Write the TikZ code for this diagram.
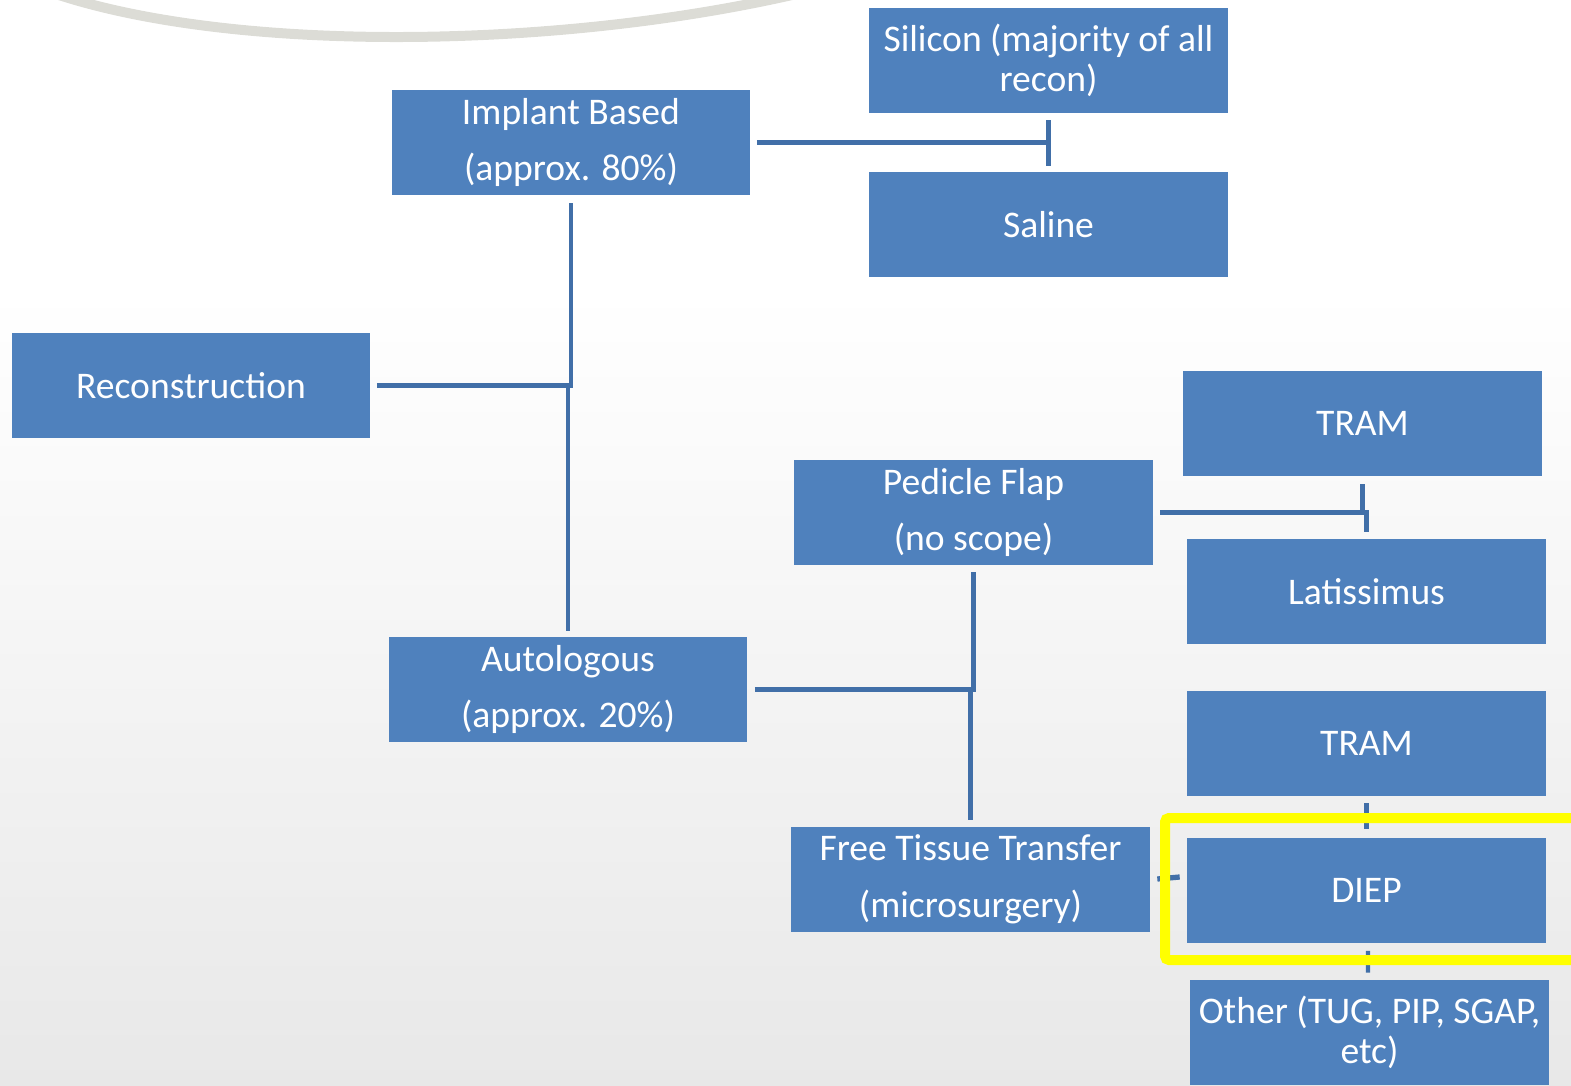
\documentclass[tikz,border=0pt]{standalone}
\usepackage{fontspec}
\setmainfont{Carlito}
\usetikzlibrary{calc}
\definecolor{boxblue}{HTML}{4F81BD}
\definecolor{linkblue}{HTML}{416FA8}
\definecolor{hilite}{HTML}{FFFF00}
\definecolor{swoosh}{HTML}{DCDCD6}
\tikzset{
  box/.style  ={rectangle, fill=boxblue, text=white, align=center, inner sep=0pt,
                minimum width=7.18cm, minimum height=2.1cm,
                font=\fontsize{21.4}{22.9}\selectfont},
  tallbox/.style={box, font=\fontsize{21.4}{32.4}\selectfont},
  link/.style ={draw=linkblue, line width=2.4pt},
  hiframe/.style={draw=hilite, line width=0.2cm, rounded corners=0.08cm},
}

\begin{document}
\begin{tikzpicture}[x=0.02cm, y=-0.02cm]
  \useasboundingbox (0,0) rectangle (1571,1085);
  \clip (0,0) rectangle (1571,1085);

  % --- background ---------------------------------------------------
  \fill[top color=white, bottom color=black!9] (0,290) rectangle (1571,1085);
  \draw[swoosh, line width=0.2cm, line cap=round]
        (50,-8) .. controls (230,54) and (560,50) .. (805,-8);

  % --- boxes ----------------------------------------------------------
  \node[box]     (sil)    at (1048.5,60.5)  {Silicon (majority of all\\recon)};
  \node[tallbox] (impl)   at (571,142.5)    {Implant Based\\(approx. 80\%)};
  \node[box]     (sal)    at (1048.5,224.5) {Saline};
  \node[box]     (recon)  at (191,385.5)    {Reconstruction};
  \node[box]     (tram1)  at (1362.5,423.5) {TRAM};
  \node[tallbox] (ped)    at (973.5,512.5)  {Pedicle Flap\\(no scope)};
  \node[box]     (lat)    at (1366.5,591.5) {Latissimus};
  \node[tallbox] (auto)   at (568,689.5)    {Autologous\\(approx. 20\%)};
  \node[box]     (tram2)  at (1366.5,743.5) {TRAM};
  \node[tallbox] (ftt)    at (970.5,879)    {Free Tissue Transfer\\(microsurgery)};
  \node[box]     (diep)   at (1366.5,890)   {DIEP};
  \node[box]     (other)  at (1369.5,1032.5){Other (TUG, PIP, SGAP,\\etc)};

  % --- connectors -----------------------------------------------------
  \coordinate (ji) at (sil.south |- impl.east);
  \draw[link] ($(impl.east)+(6,0)$) -- (ji);
  \draw[link] ($(sil.south)+(0,7)$) -- ($(sal.north)+(0,-6)$);

  \coordinate (jr) at (impl.south |- recon.east);
  \draw[link] ($(recon.east)+(6,0)$) -- (jr) -- ($(impl.south)+(0,8)$);
  \draw[link] (jr -| auto.north) -- ($(auto.north)+(0,-6)$);

  \draw[link] ($(ped.east)+(7,0)$) -- (ped.east -| lat.north) -- ($(lat.north)+(0,-7)$);
  \draw[link] ($(tram1.south)+(0,8)$) -- (tram1.south |- ped.east);

  \draw[link] ($(auto.east)+(7,0)$) -- (auto.east -| ped.south) -- ($(ped.south)+(0,7)$);
  \draw[link] (auto.east -| ftt.north) -- ($(ftt.north)+(0,-6)$);

  \coordinate (fe) at ($(diep.west)+(-7,-13)$);
  \draw[link, line width=3pt] ($(ftt.east)+(7,0)$) -- (fe);
  \draw[link] ($(tram2.south)+(0,7)$) -- ($(diep.north)+(0,-8)$);
  \draw[link] ($(diep.south)+(1.5,8)$) -- ($(other.north)+(-1.5,-7)$);

  % --- highlight ------------------------------------------------------
  \draw[hiframe] (1600,818) -- (1165,818) -- (1165,960) -- (1600,960);
\end{tikzpicture}
\end{document}
